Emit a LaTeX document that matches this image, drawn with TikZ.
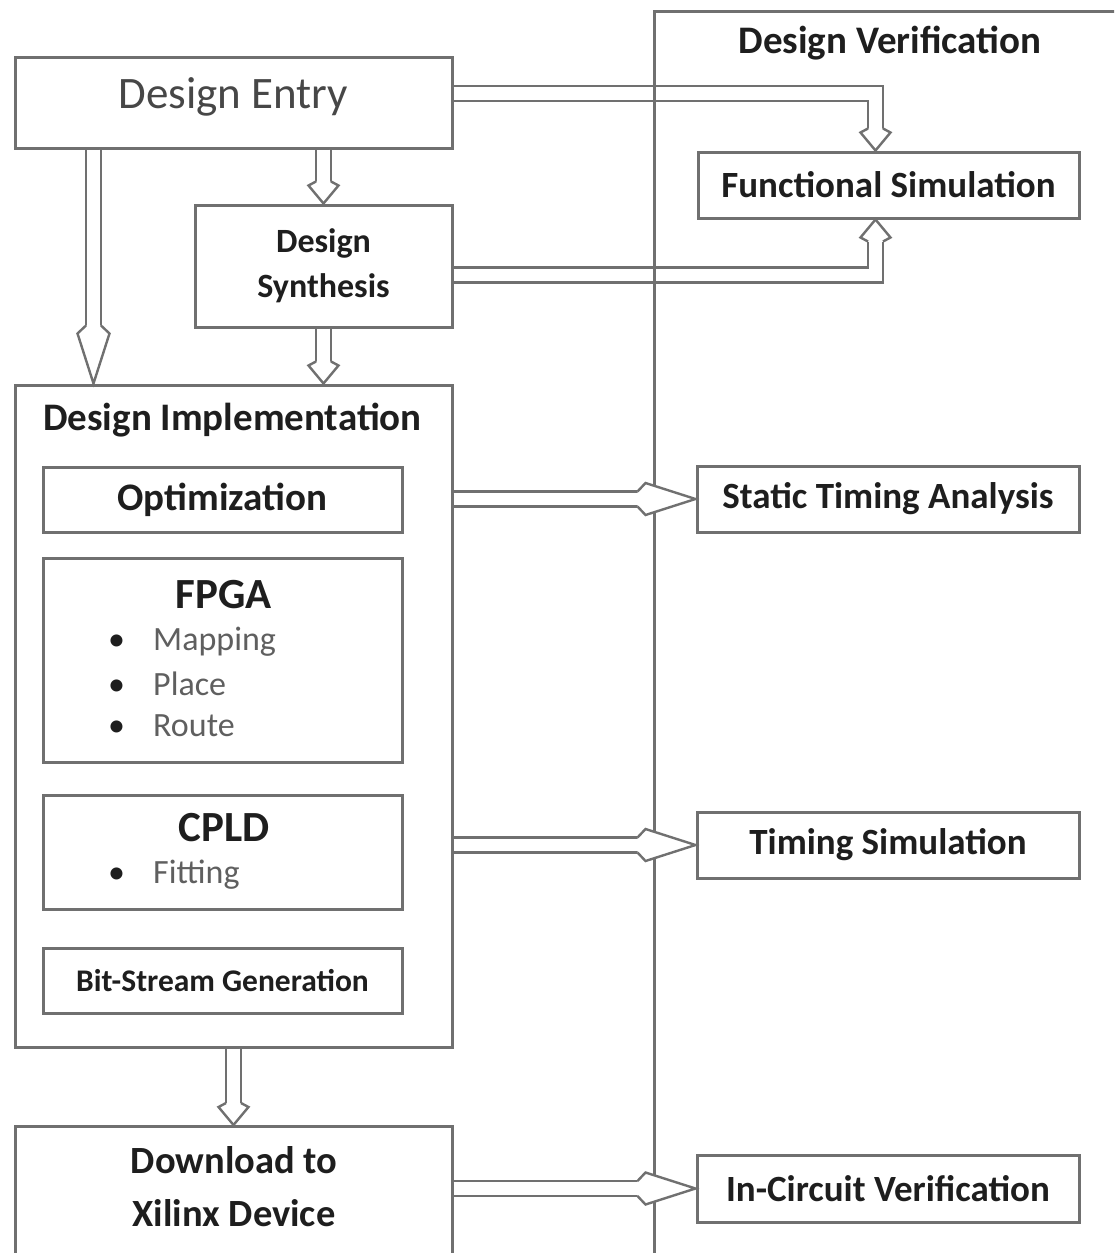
\documentclass[tikz,border=0pt]{standalone}
\usepackage{fontspec}
\setmainfont{Carlito}

\definecolor{boxgray}{RGB}{112,112,112}
\definecolor{itemgray}{RGB}{95,95,95}
\definecolor{inkblack}{RGB}{30,30,30}

\begin{document}
\begin{tikzpicture}[x=1pt, y=-1pt, every node/.style={inner sep=0pt, text=inkblack},
	box/.style={rectangle, draw=boxgray, line width=3pt, align=center},
	big/.style={font=\fontsize{39}{47}\selectfont\bfseries},
	side/.style={font=\fontsize{37}{44}\selectfont\bfseries},
	item/.style={anchor=west, font=\fontsize{34}{40}\selectfont, text=itemgray},
	dbl/.style={draw=boxgray, line width=2.4pt, double=white, double distance=12.6pt},
	headline/.style={draw=boxgray, line width=2.4pt, fill=white},
	longhead/.pic={\draw[headline] (-58,7.5) -- (-50,16) -- (0,0) -- (-50,-16) -- (-58,-7.5);},
	shorthead/.pic={\draw[headline] (-22,7.5) -- (-18,15) -- (0,0) -- (-18,-15) -- (-22,-7.5);}]
	\useasboundingbox (0,0) rectangle (1114,1253);
	\clip (0,0) rectangle (1114,1253);
	
	\node (entry) at (233.5,102.5) [box, minimum width=437pt, minimum height=91pt, text height=31pt, text depth=19pt, font=\fontsize{45}{54}\selectfont, text=black!72] {Design Entry};
	\node (synth) at (323.5,266) [box, minimum width=257pt, minimum height=122pt, font=\fontsize{34}{45}\selectfont\bfseries] {Design\\Synthesis};
	\node (impl) at (233.5,716) [box, minimum width=437pt, minimum height=662pt] {};
	\node (implt) at (43,420) [big, anchor=west] {Design Implementation};
	\node (opt) at (222.5,499.5) [box, big, minimum width=359pt, minimum height=65pt] {Optimization};
	\node (fpga) at (222.5,660) [box, minimum width=359pt, minimum height=204pt] {};
	\node (fpgat) at (224,595) [font=\fontsize{43}{50}\selectfont\bfseries] {FPGA};
	\node (map) at (108,642) [item] {\makebox[45pt][l]{\textcolor{inkblack}{\textbullet}}Mapping};
	\node (place) at (108,684) [item] {\makebox[45pt][l]{\textcolor{inkblack}{\textbullet}}Place};
	\node (route) at (108,726) [item] {\makebox[45pt][l]{\textcolor{inkblack}{\textbullet}}Route};
	\node (cpld) at (222.5,852) [box, minimum width=359pt, minimum height=114pt] {};
	\node (cpldt) at (224,828) [font=\fontsize{43}{50}\selectfont\bfseries] {CPLD};
	\node (fit) at (108,875) [item] {\makebox[45pt][l]{\textcolor{inkblack}{\textbullet}}Fitting};
	\node (bits) at (222.5,980.5) [box, minimum width=359pt, minimum height=65pt, font=\fontsize{31.5}{38}\selectfont\bfseries] {Bit-Stream Generation};
	\node (dl) at (233.5,1125) [box, anchor=north, minimum width=437pt, minimum height=200pt] {};
	\node (dlt) at (234,1187) [align=center, font=\fontsize{38.5}{53}\selectfont\bfseries] {Download to\\Xilinx Device};
	
	\node (fs) at (888.5,185) [box, side, minimum width=381pt, minimum height=66pt] {Functional Simulation};
	\node (sta) at (888,499) [box, side, minimum width=382pt, minimum height=66pt] {Static Timing Analysis};
	\node (ts) at (888,845) [box, side, minimum width=382pt, minimum height=66pt] {Timing Simulation};
	\node (icv) at (888,1188.5) [box, side, minimum width=382pt, minimum height=67pt] {In-Circuit Verification};
	
	\coordinate (implin) at (synth.south |- impl.north);
	\coordinate (fsin) at ([xshift=-13pt]fs.north);
	\coordinate (fsout) at ([xshift=-13pt]fs.south);
	
	\draw[dbl] ([xshift=80pt]entry.south west) -- ([xshift=80pt,yshift=58pt]impl.north west);
	\draw[dbl] (entry.south -| synth.north) -- ([yshift=22pt]synth.north);
	\draw[dbl] (synth.south) -- ([yshift=22pt]implin);
	\draw[dbl] ([yshift=9pt]entry.east) -| ([yshift=22pt]fsin);
	\draw[dbl] ([yshift=-9pt]synth.east) -| ([yshift=-22pt]fsout);
	\draw[dbl] (sta.west -| impl.east) -- ([xshift=-58pt]sta.west);
	\draw[dbl] (ts.west -| impl.east) -- ([xshift=-58pt]ts.west);
	\draw[dbl] (icv.west -| dl.east) -- ([xshift=-58pt]icv.west);
	\draw[dbl] (impl.south) -- ([yshift=22pt]dl.north);
	
	\node (verif) at (653,10) [box, anchor=north west, minimum width=600pt, minimum height=1400pt] {};
	\node (verift) at (890,43) [big] {Design Verification};
	
	\pic[rotate=-90] at ([xshift=80pt]impl.north west) {longhead};
	\pic[rotate=-90] at (synth.north) {shorthead};
	\pic[rotate=-90] at (implin) {shorthead};
	\pic[rotate=-90] at (fsin) {shorthead};
	\pic[rotate=90] at (fsout) {shorthead};
	\pic at (sta.west) {longhead};
	\pic at (ts.west) {longhead};
	\pic at (icv.west) {longhead};
	\pic[rotate=-90] at (dl.north) {shorthead};
	
\end{tikzpicture}
\end{document}
